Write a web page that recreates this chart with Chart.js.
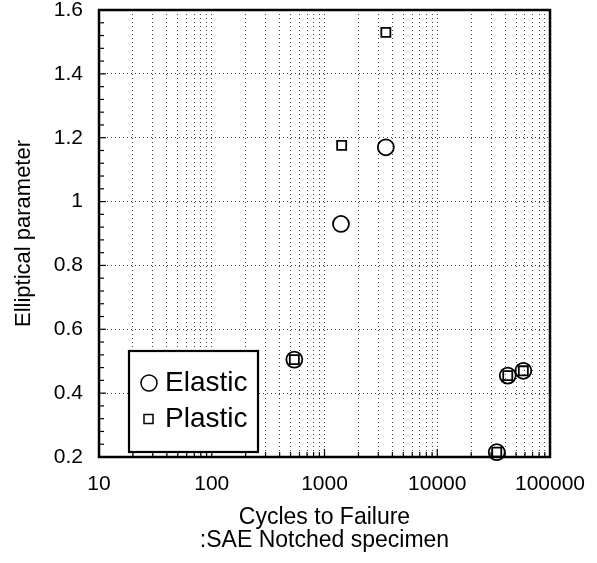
<!DOCTYPE html>
<html>
<head>
<meta charset="utf-8">
<script src="https://cdn.jsdelivr.net/npm/chart.js@4/dist/chart.umd.min.js"></script>
<style>
html,body{margin:0;padding:0;background:#fff;}
#wrap{width:597px;height:563px;position:relative;}
</style>
</head>
<body>
<div id="wrap"><canvas id="c" width="597" height="563"></canvas></div>
<script>
// ---- data ----
const elasticCycles = [540, 1400, 3500, 33700, 42200, 58000];
const elasticParam  = [0.505, 0.93, 1.17, 0.215, 0.455, 0.47];
const plasticCycles = [540, 1420, 3500, 33700, 42200, 58000];
const plasticParam  = [0.505, 1.176, 1.53, 0.215, 0.455, 0.47];
const xDecades = [10, 100, 1000, 10000, 100000];
const xMantissas = [1, 2, 3, 4, 5, 6, 7, 8, 9];
const yLabels = ['0.2', '0.4', '0.6', '0.8', '1', '1.2', '1.4', '1.6'];
const legendNames = ['Elastic', 'Plastic'];
const xTitle = ['Cycles to Failure', ':SAE Notched specimen'];
const yTitle = 'Elliptical parameter';

const FONT = '"Liberation Sans", Arial, Helvetica, sans-serif';

function isMajorY(v){ return Math.abs(v*5 - Math.round(v*5)) < 1e-6; }
function isDecade(v){ return xDecades.some(d => Math.abs(v - d) < 1e-6 * d); }

const framePlugin = {
  id: 'frame',
  afterDatasetsDraw(chart) {
    const {ctx, chartArea: a, scales} = chart;
    ctx.save();
    ctx.strokeStyle = '#000';
    ctx.setLineDash([]);
    // y tick marks (inside)
    ctx.lineWidth = 1.2;
    scales.y.ticks.forEach(t => {
      const py = scales.y.getPixelForValue(t.value);
      const len = isMajorY(t.value) ? 7 : 5;
      ctx.beginPath(); ctx.moveTo(a.left, py); ctx.lineTo(a.left + len, py); ctx.stroke();
    });
    // x tick marks (inside)
    scales.x.ticks.forEach(t => {
      const px = scales.x.getPixelForValue(t.value);
      const len = isDecade(t.value) ? 8 : 5;
      ctx.beginPath(); ctx.moveTo(px, a.bottom); ctx.lineTo(px, a.bottom - len); ctx.stroke();
    });
    // frame
    ctx.lineWidth = 2.5;
    ctx.strokeRect(a.left, a.top, a.right - a.left, a.bottom - a.top);
    // legend box
    const bx = a.left + 30, by = a.bottom - 106, bw = 129, bh = 101;
    ctx.fillStyle = '#fff';
    ctx.fillRect(bx, by, bw, bh);
    ctx.lineWidth = 2.2;
    ctx.strokeRect(bx, by, bw, bh);
    ctx.lineWidth = 1.5;
    // circle symbol
    ctx.beginPath(); ctx.arc(bx + 20, by + 32, 8, 0, Math.PI * 2); ctx.stroke();
    // square symbol
    ctx.strokeRect(bx + 15, by + 63.5, 9, 9);
    ctx.fillStyle = '#000';
    ctx.font = '28px ' + FONT;
    ctx.textBaseline = 'alphabetic';
    ctx.textAlign = 'left';
    ctx.fillText(legendNames[0], bx + 36, by + 40);
    ctx.fillText(legendNames[1], bx + 36, by + 76);
    ctx.restore();
  }
};

new Chart(document.getElementById('c'), {
  type: 'scatter',
  data: {
    datasets: [
      {
        label: legendNames[0],
        data: elasticCycles.map((x, i) => ({x, y: elasticParam[i]})),
        pointStyle: 'circle', pointRadius: 8, pointHoverRadius: 8,
        borderColor: '#000', backgroundColor: 'rgba(0,0,0,0)', borderWidth: 1.8,
        clip: false
      },
      {
        label: legendNames[1],
        data: plasticCycles.map((x, i) => ({x, y: plasticParam[i]})),
        pointStyle: 'rect', pointRadius: 6.4, pointHoverRadius: 6.4,
        borderColor: '#000', backgroundColor: 'rgba(0,0,0,0)', borderWidth: 1.8,
        clip: false
      }
    ]
  },
  options: {
    responsive: false,
    animation: false,
    devicePixelRatio: 1,
    layout: { padding: { left: 0, right: 47, top: 10, bottom: 0 } },
    plugins: { legend: { display: false }, tooltip: { enabled: false } },
    scales: {
      x: {
        type: 'logarithmic',
        min: 10, max: 100000,
        afterBuildTicks(scale) {
          const ticks = [];
          xDecades.forEach(d => {
            if (d === 100000) { ticks.push({value: d}); return; }
            xMantissas.forEach(m => ticks.push({value: m * d}));
          });
          scale.ticks = ticks;
        },
        afterFit(scale) { scale.height = 106; scale.paddingLeft = 0; scale.paddingRight = 0; },
        border: { display: false, dash: [1, 3] },
        grid: {
          drawTicks: false,
          color: (c) => (c.tick && (c.tick.value === 10 || c.tick.value === 100000)) ? 'rgba(0,0,0,0)' : '#444',
          lineWidth: 1
        },
        ticks: {
          autoSkip: false, maxRotation: 0,
          padding: 15,
          color: '#000',
          font: { family: FONT, size: 21 },
          callback: (v) => isDecade(v) ? String(v) : ''
        },
        title: {
          display: true, text: xTitle, color: '#000',
          font: { family: FONT, size: 23, lineHeight: 1.0 },
          padding: { top: 0, bottom: 11 }
        }
      },
      y: {
        min: 0.2, max: 1.6,
        afterBuildTicks(scale) {
          const ticks = [];
          for (let i = 0; i <= 35; i++) ticks.push({value: Math.round((0.2 + i * 0.04) * 1000) / 1000});
          scale.ticks = ticks;
        },
        afterFit(scale) { scale.width = 99; scale.paddingTop = 0; scale.paddingBottom = 0; },
        border: { display: false, dash: [1, 3] },
        grid: {
          drawTicks: false,
          color: (c) => (c.tick && isMajorY(c.tick.value) && c.tick.value > 0.21 && c.tick.value < 1.59) ? '#444' : 'rgba(0,0,0,0)',
          lineWidth: 1
        },
        ticks: {
          autoSkip: false,
          padding: 16,
          color: '#000',
          font: { family: FONT, size: 21 },
          callback: (v) => isMajorY(v) ? yLabels[Math.round((v - 0.2) * 5)] : ''
        },
        title: {
          display: true, text: yTitle, color: '#000',
          font: { family: FONT, size: 22, lineHeight: 1.2 },
          padding: { top: 11, bottom: 0 }
        }
      }
    }
  },
  plugins: [framePlugin]
});
</script>
</body>
</html>
